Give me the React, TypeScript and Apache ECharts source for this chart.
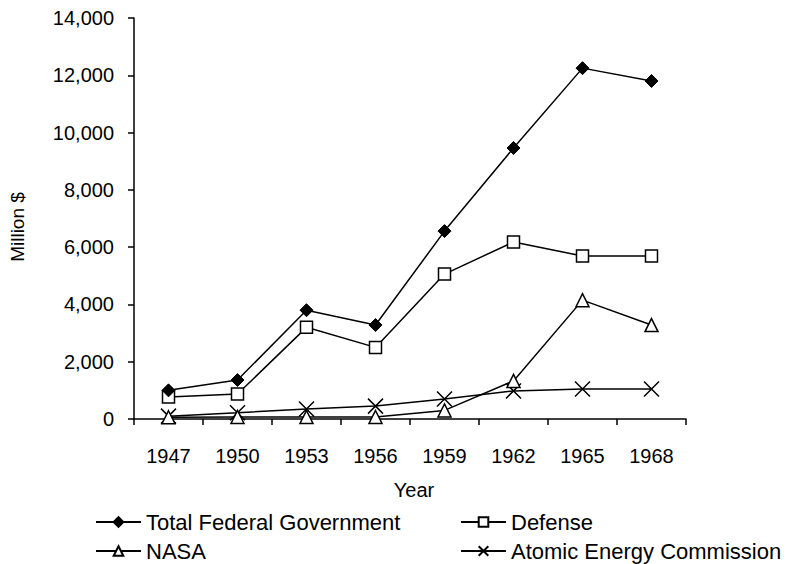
import React, { useEffect, useRef } from "react";
import * as echarts from "echarts";

const years = ["1947", "1950", "1953", "1956", "1959", "1962", "1965", "1968"];
const totalFederal = [1000, 1360, 3800, 3280, 6560, 9460, 12250, 11800];
const defense = [770, 870, 3200, 2500, 5060, 6180, 5690, 5690];
const nasa = [60, 70, 70, 70, 300, 1330, 4150, 3280];
const atomicEnergy = [100, 220, 350, 450, 700, 980, 1050, 1050];

const FONT = "Liberation Sans, Arial, sans-serif";
const CROSS = "path://M0,0L10,10M10,0L0,10";

export default function App() {
  const ref = useRef<HTMLDivElement>(null);
  useEffect(() => {
    if (!ref.current) return;
    const chart = echarts.init(ref.current, null, { renderer: "svg" });
    const line = { color: "#000", width: 1.5 };
    const legendBase = {
      orient: "horizontal",
      padding: 0,
      itemWidth: 45,
      itemHeight: 12,
      textStyle: { fontFamily: FONT, fontSize: 22, color: "#000" },
      selectedMode: false,
    };
    chart.setOption({
      animation: false,
      backgroundColor: "#fff",
      textStyle: { fontFamily: FONT },
      grid: { left: 134, right: 102, top: 18, bottom: 145, containLabel: false },
      legend: [
        { ...legendBase, left: 95, top: 511, data: ["Total Federal Government"] },
        { ...legendBase, left: 460, top: 511, data: ["Defense"] },
        { ...legendBase, left: 95, top: 540, data: ["NASA"] },
        { ...legendBase, left: 460, top: 540, data: ["Atomic Energy Commission"] },
      ],
      graphic: [
        {
          type: "text",
          x: 414,
          y: 490,
          style: {
            text: "Year",
            fontFamily: FONT,
            fontSize: 20,
            fill: "#000",
            align: "center",
            verticalAlign: "middle",
          },
        },
        {
          type: "text",
          x: 17,
          y: 227,
          rotation: Math.PI / 2,
          style: {
            text: "Million $",
            fontFamily: FONT,
            fontSize: 19,
            fill: "#000",
            align: "center",
            verticalAlign: "middle",
          },
        },
      ],
      xAxis: {
        type: "category",
        data: years,
        boundaryGap: true,
        axisLine: { lineStyle: { color: "#000", width: 1.5 } },
        axisTick: { show: true, interval: 0, length: 6, lineStyle: { color: "#000", width: 1.5 } },
        axisLabel: { margin: 27, fontFamily: FONT, fontSize: 20, color: "#000" },
        splitLine: { show: false },
      },
      yAxis: {
        type: "value",
        min: 0,
        max: 14000,
        interval: 2000,
        axisLine: { show: true, lineStyle: { color: "#000", width: 1.5 } },
        axisTick: { show: true, length: 6, lineStyle: { color: "#000", width: 1.5 } },
        axisLabel: {
          margin: 20,
          fontFamily: FONT,
          fontSize: 20,
          color: "#000",
          formatter: (v: number) => v.toLocaleString("en-US"),
        },
        splitLine: { show: false },
      },
      series: [
        {
          name: "Total Federal Government",
          type: "line",
          data: totalFederal,
          symbol: "diamond",
          symbolSize: 13,
          lineStyle: line,
          itemStyle: { color: "#000", borderColor: "#000", borderWidth: 1 },
          z: 4,
        },
        {
          name: "Defense",
          type: "line",
          data: defense,
          symbol: "rect",
          symbolSize: 12,
          lineStyle: line,
          itemStyle: { color: "#fff", borderColor: "#000", borderWidth: 1.5 },
          z: 3,
        },
        {
          name: "NASA",
          type: "line",
          data: nasa,
          symbol: "triangle",
          symbolSize: 13,
          lineStyle: line,
          itemStyle: { color: "#fff", borderColor: "#000", borderWidth: 1.5 },
          z: 2,
        },
        {
          name: "Atomic Energy Commission",
          type: "line",
          data: atomicEnergy,
          symbol: CROSS,
          symbolSize: 15,
          lineStyle: line,
          itemStyle: { color: "none", borderColor: "#000", borderWidth: 1.5 },
          z: 1,
        },
      ],
    });
    return () => chart.dispose();
  }, []);
  return <div ref={ref} style={{ width: 788, height: 564, position: "absolute", left: 0, top: 0 }} />;
}
